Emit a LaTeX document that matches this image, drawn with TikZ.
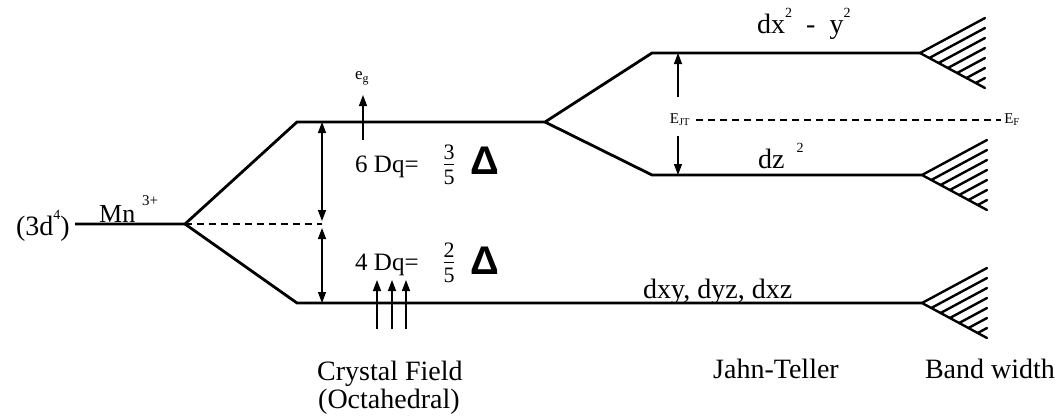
\documentclass[tikz,border=0pt]{standalone}
\usepackage{fontspec}
\setmainfont{Liberation Serif}
\newfontfamily\deltafont{Liberation Sans}
\usetikzlibrary{arrows.meta}
\newcommand{\supsm}[1]{\raisebox{0.55em}{\fontsize{14}{16}\selectfont #1}}
\begin{document}
\begin{tikzpicture}[x=1pt,y=-1pt,
  level/.style={line width=2.8pt, line join=miter, line cap=butt},
  hatchline/.style={line width=2.4pt, line cap=round},
  uparrow/.style={line width=1.4pt, -{Triangle[length=11pt,width=8pt]}},
  dblarrow/.style={line width=1.4pt, {Triangle[length=11pt,width=8pt]}-{Triangle[length=11pt,width=8pt]}},
  dashline/.style={line width=1.2pt, dash pattern=on 7pt off 5pt},
  lbl/.style={inner sep=0pt, font=\fontsize{28}{32}\selectfont},
  dqlbl/.style={inner sep=0pt, font=\fontsize{25}{28}\selectfont},
  fraclbl/.style={inner sep=0pt, font=\fontsize{22}{24}\selectfont},
  small/.style={inner sep=0pt, font=\fontsize{15}{17}\selectfont},
  deltalbl/.style={inner sep=0pt, font=\deltafont\bfseries\fontsize{40}{44}\selectfont},
  band/.pic={
    \draw[hatchline] (65,-35) -- (0,0) -- (65,35);
    \foreach \t in {1,...,6} {
      \draw[hatchline] ({65*\t/7},{35*\t/7}) -- (65,{-35+70*\t/7});
    }
  }
]
\useasboundingbox (0,0) rectangle (1060,416);

% level coordinates
\coordinate (mnL) at (75,224);
\coordinate (split) at (185,224);
\coordinate (egL) at (297,122);
\coordinate (egR) at (545,122);
\coordinate (t2L) at (297,303);
\coordinate (t2R) at (922,303);
\coordinate (x2L) at (652,53);
\coordinate (x2R) at (920,53);
\coordinate (z2L) at (652,175);
\coordinate (z2R) at (922,175);
\coordinate (bary) at (322,224);

% levels
\draw[level] (mnL) -- (split) -- (egL) -- (egR) -- (x2L) -- (x2R);
\draw[level] (egR) -- (z2L) -- (z2R);
\draw[level] (split) -- (t2L) -- (t2R);

% band wedges
\pic at (x2R) {band};
\pic at (z2R) {band};
\pic at (t2R) {band};

% barycentre dashed line and splitting arrows
\draw[dashline] (split) -- (bary);
\coordinate (a1t) at (322,122);
\coordinate (a1b) at (322,221);
\coordinate (a2t) at (322,228);
\coordinate (a2b) at (322,303);
\draw[dblarrow] (a1t) -- (a1b);
\draw[dblarrow] (a2t) -- (a2b);

% electrons
\coordinate (e1s) at (363,140); \coordinate (e1e) at (363,95);
\draw[uparrow] (e1s) -- (e1e);
\foreach \x [count=\i] in {377,392,406} {
  \coordinate (t\i s) at (\x,329);
  \coordinate (t\i e) at (\x,280);
  \draw[uparrow] (t\i s) -- (t\i e);
}
\node[small, font=\fontsize{17}{19}\selectfont] (eg) at (362,78) {e\textsubscript{g}};

% Jahn-Teller splitting
\coordinate (jtu1) at (678,97); \coordinate (jtu2) at (678,53);
\coordinate (jtd1) at (678,136); \coordinate (jtd2) at (678,175);
\draw[uparrow] (jtu1) -- (jtu2);
\draw[uparrow] (jtd1) -- (jtd2);
\node[small] (ejt) at (680,120) {E\textsubscript{JT}};
\node[small] (ef) at (1012,120) {E\textsubscript{F}};
\coordinate (fl) at (696,120);
\coordinate (fr) at (1001,120);
\draw[dashline] (fl) -- (fr);

% labels
\node[lbl, anchor=base east] (cfg) at (70,235) {(3d\supsm{4})};
\node[lbl, anchor=base west, font=\fontsize{26}{30}\selectfont] (mn) at (99,222) {Mn};
\node[small] (mnc) at (150,201) {3+};

\node[dqlbl, anchor=base west] (dq6) at (355,172) {6 Dq=};
\node[fraclbl] (f3n) at (449,152) {3};
\node[fraclbl] (f3d) at (449,177) {5};
\draw[line width=0.6pt] (444,164.5) -- (454,164.5);
\node[deltalbl] (d6) at (485,161) {Δ};

\node[dqlbl, anchor=base west] (dq4) at (355,270) {4 Dq=};
\node[fraclbl] (f2n) at (449,250) {2};
\node[fraclbl] (f2d) at (449,275) {5};
\draw[line width=0.6pt] (444,262.5) -- (454,262.5);
\node[deltalbl] (d4) at (485,261) {Δ};

\node[lbl, anchor=base west] (x2y2) at (757,33) {dx\supsm{2}\hspace{14pt}-\hspace{14pt}y\supsm{2}};
\node[lbl, anchor=base west] (z2) at (758,168) {dz\hspace{12pt}\supsm{2}};
\node[lbl, anchor=base west] (t2g) at (643,298) {dxy, dyz, dxz};

\node[lbl, anchor=base west] (cf1) at (317,380) {Crystal Field};
\node[lbl, anchor=base west] (cf2) at (318,408) {(Octahedral)};
\node[lbl, anchor=base] (jt) at (776,378) {Jahn-Teller};
\node[lbl, anchor=base] (bw) at (990,378) {Band width};
\end{tikzpicture}
\end{document}
